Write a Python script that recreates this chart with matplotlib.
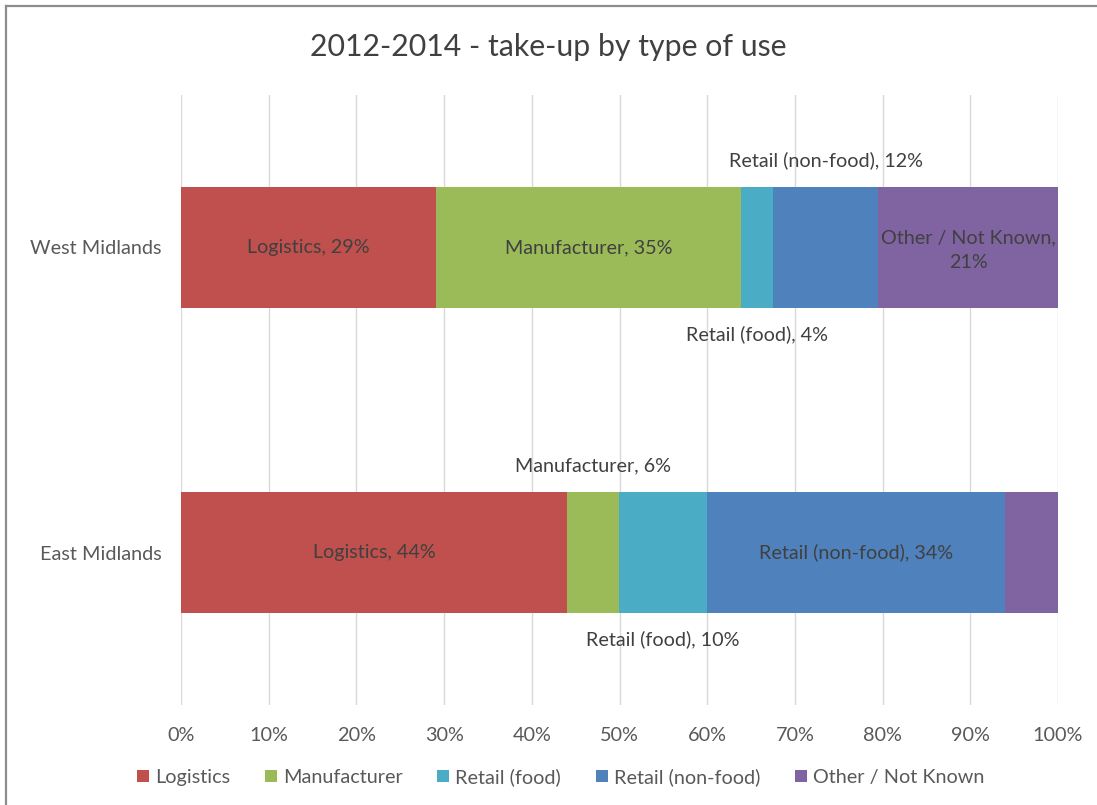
import matplotlib
matplotlib.use('Agg')
import matplotlib.pyplot as plt
from matplotlib.lines import Line2D
from matplotlib.patches import Patch

plt.rcParams['font.family'] = ['Lato', 'DejaVu Sans']

# Data
regions = ['East Midlands', 'West Midlands']
uses = ['Logistics', 'Manufacturer', 'Retail (food)', 'Retail (non-food)', 'Other / Not Known']
east = [44.0, 5.9, 10.1, 34.0, 6.0]
west = [29.1, 34.8, 3.6, 12.0, 20.5]
east_labels = ['44%', '6%', '10%', '34%', None]
west_labels = ['29%', '35%', '4%', '12%', '21%']
# where each label goes: inside / above / below
east_pos = ['in', 'above', 'below', 'in', None]
west_pos = ['in', 'in', 'below', 'above', 'in2']

COLORS = ['#C0504D', '#9BBB59', '#4BACC6', '#4F81BD', '#8064A2']
TEXT = '#404040'
TICK = '#595959'
FS = 14.2

fig = plt.figure(figsize=(10.97, 8.05), dpi=100)
ax = fig.add_axes([181 / 1097, 1 - 705 / 805, 877 / 1097, 610 / 805])

bar_h = 0.395
offset = 0.285

for yi, (vals, labs, poss) in enumerate([(east, east_labels, east_pos), (west, west_labels, west_pos)]):
    left = 0
    for i, v in enumerate(vals):
        ax.barh(yi, v, left=left, height=bar_h, color=COLORS[i], edgecolor='none', zorder=2)
        xc = left + v / 2
        p = poss[i]
        if p == 'in':
            ax.text(xc, yi, uses[i] + ', ' + labs[i], ha='center', va='center', fontsize=FS, color=TEXT, zorder=3)
        elif p == 'in2':
            ax.text(xc, yi - 0.01, uses[i] + ',\n' + labs[i], ha='center', va='center', fontsize=FS, color=TEXT,
                    linespacing=1.55, zorder=3)
        elif p == 'above':
            ax.text(xc, yi + offset, uses[i] + ', ' + labs[i], ha='center', va='center', fontsize=FS, color=TEXT, zorder=3)
        elif p == 'below':
            ax.text(xc, yi - offset, uses[i] + ', ' + labs[i], ha='center', va='center', fontsize=FS, color=TEXT, zorder=3)
        left += v

ax.set_xlim(0, 100)
ax.set_ylim(-0.5, 1.5)
ax.set_xticks(range(0, 101, 10))
ax.set_xticklabels([str(t) + '%' for t in range(0, 101, 10)], fontsize=14.3, color=TICK)
ax.set_yticks([0, 1])
ax.set_yticklabels(regions, fontsize=14.3, color=TICK)
ax.tick_params(axis='both', length=0)
ax.tick_params(axis='x', pad=16)
ax.tick_params(axis='y', pad=14)
ax.grid(axis='x', color='#D9D9D9', linewidth=1, zorder=0)
for s in ax.spines.values():
    s.set_visible(False)

fig.text(0.5, 1 - 47 / 805, '2012-2014 - take-up by type of use', ha='center', va='center',
         fontsize=21.8, color=TEXT)

handles = [Patch(facecolor=c, edgecolor='none') for c in COLORS]
fig.legend(handles, uses, loc='center', bbox_to_anchor=(0.511, 1 - 777 / 805), ncol=5, frameon=False,
           fontsize=14.3, labelcolor=TICK, handlelength=0.6, handleheight=0.6, handletextpad=0.3,
           columnspacing=1.75)

# chart border (only left/top visible)
fig.add_artist(Line2D([5.5 / 1097, 5.5 / 1097], [0, 1 - 6.5 / 805], transform=fig.transFigure, color='#8C8C8C', linewidth=1.6))
fig.add_artist(Line2D([5.5 / 1097, 1], [1 - 6.5 / 805, 1 - 6.5 / 805], transform=fig.transFigure, color='#8C8C8C', linewidth=1.6))

plt.savefig('out.png', dpi=100)
